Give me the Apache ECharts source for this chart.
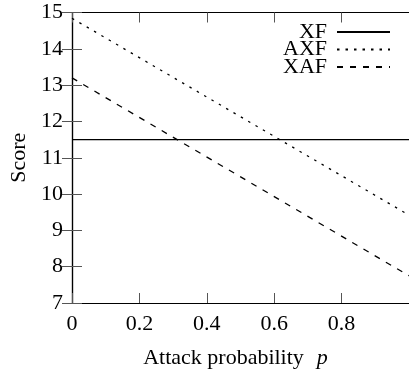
<!DOCTYPE html>
<html>
<head>
<meta charset="utf-8">
<script src="https://cdn.jsdelivr.net/npm/echarts@6/dist/echarts.min.js"></script>
<style>
html,body{margin:0;padding:0;background:#fff;}
#chart{width:409px;height:374px;}
</style>
</head>
<body>
<div id="chart"></div>
<script>
var pValues = [0, 1];
var xfScore = [11.5, 11.5];
var axfScore = [14.84, 9.42];
var xafScore = [13.2, 7.75];
var seriesNames = ['XF', 'AXF', 'XAF'];
var xTicks = [0, 0.2, 0.4, 0.6, 0.8];

function pairs(ys) { return pValues.map(function (p, i) { return [p, ys[i]]; }); }

var FONT = "'Liberation Serif', 'Times New Roman', serif";
var chart = echarts.init(document.getElementById('chart'), null, {renderer: 'canvas'});
var tickStyle = {show: true, inside: true, length: 10, lineStyle: {color: '#555', width: 1}};
var lineAxis = {show: true, lineStyle: {color: '#000', width: 1.2}};
chart.setOption({
  animation: false,
  backgroundColor: '#fff',
  grid: {left: 72, right: -3, top: 12.5, bottom: 64.5, containLabel: false},
  legend: {
    orient: 'vertical', right: 18, top: 21, align: 'right', padding: 0,
    itemWidth: 53, itemHeight: 14, itemGap: -4.5,
    itemStyle: {opacity: 0},
    textStyle: {fontFamily: FONT, fontSize: 22, color: '#000', padding: [0, 5, 0, 0]},
    data: seriesNames
  },
  xAxis: [{
    type: 'value', min: 0, max: 1, interval: 0.2,
    name: '{a|Attack probability}{i|p}', nameLocation: 'middle', nameGap: 44,
    nameTextStyle: {padding: [0, 10, 0, 0], rich: {
      a: {fontFamily: FONT, fontSize: 22, color: '#000'},
      i: {fontFamily: FONT, fontSize: 22, fontStyle: 'italic', color: '#000', padding: [0, 0, 0, 13]}
    }},
    axisLine: lineAxis, axisTick: tickStyle, splitLine: {show: false},
    axisLabel: {fontFamily: FONT, fontSize: 22, color: '#000', margin: 10, showMaxLabel: false,
      formatter: function (v) { return xTicks.indexOf(Math.round(v * 10) / 10) >= 0 ? String(Math.round(v * 10) / 10) : ''; }}
  }, {
    type: 'value', position: 'top', min: 0, max: 1, interval: 0.2,
    axisLine: lineAxis, axisTick: tickStyle, axisLabel: {show: false}, splitLine: {show: false}
  }],
  yAxis: [{
    type: 'value', min: 7, max: 15, interval: 1,
    name: 'Score', nameLocation: 'middle', nameGap: 37,
    nameTextStyle: {fontFamily: FONT, fontSize: 22, color: '#000'},
    axisLine: lineAxis, axisTick: tickStyle, splitLine: {show: false},
    axisLabel: {fontFamily: FONT, fontSize: 22, color: '#000', margin: 9}
  }, {
    type: 'value', position: 'right', min: 7, max: 15, interval: 1,
    axisLine: lineAxis, axisTick: tickStyle, axisLabel: {show: false}, splitLine: {show: false}
  }],
  series: [
    {name: seriesNames[0], type: 'line', data: pairs(xfScore), symbol: 'none', color: '#000',
      lineStyle: {color: '#000', width: 1.3, type: 'solid'}},
    {name: seriesNames[1], type: 'line', data: pairs(axfScore), symbol: 'none', color: '#000',
      lineStyle: {color: '#000', width: 1.3, type: [2.5, 6]}},
    {name: seriesNames[2], type: 'line', data: pairs(xafScore), symbol: 'none', color: '#000',
      lineStyle: {color: '#000', width: 1.3, type: [6, 7]}}
  ]
});
</script>
</body>
</html>
